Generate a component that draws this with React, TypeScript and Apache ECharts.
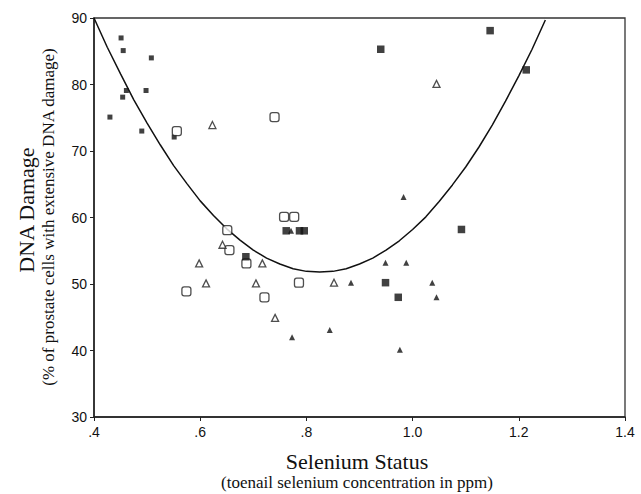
import React, { useEffect, useRef } from "react";
import * as echarts from "echarts";

// Selenium status (ppm) vs DNA damage (%)
const smallFilledSquares: [number, number][] = [
  [0.451, 87.0], [0.455, 85.1], [0.508, 84.0], [0.461, 79.1], [0.498, 79.1],
  [0.454, 78.1], [0.430, 75.1], [0.490, 73.0], [0.551, 72.1],
];
const openSquares: [number, number][] = [
  [0.556, 73.0], [0.740, 75.1], [0.651, 58.1], [0.655, 55.1], [0.687, 53.1],
  [0.574, 48.9], [0.721, 48.0], [0.758, 60.1], [0.777, 60.1], [0.786, 50.2],
];
const largeFilledSquares: [number, number][] = [
  [0.686, 54.1], [0.762, 58.0], [0.787, 58.0], [0.796, 58.0], [1.092, 58.2],
  [0.949, 50.2], [0.973, 48.0], [1.146, 88.1], [1.214, 82.2], [0.940, 85.3],
];
const openTriangles: [number, number][] = [
  [0.623, 73.9], [0.642, 55.9], [0.598, 53.1], [0.611, 50.1], [0.717, 53.1],
  [0.705, 50.1], [0.741, 44.9], [0.852, 50.2], [1.045, 80.1],
];
const filledTriangles: [number, number][] = [
  [0.771, 58.0], [0.884, 50.2], [0.949, 53.2], [0.988, 53.2], [1.037, 50.2],
  [1.045, 48.0], [0.773, 42.0], [0.844, 43.1], [0.976, 40.1], [0.983, 63.1],
];
// fitted curve, points
const curveX = [
  0.4, 0.425, 0.45, 0.475, 0.5, 0.525, 0.55, 0.575, 0.6, 0.625, 0.65, 0.675, 0.7, 0.725,
  0.75, 0.775, 0.8, 0.825, 0.85, 0.875, 0.9, 0.925, 0.95, 0.975, 1.0, 1.025, 1.05, 1.075,
  1.1, 1.125, 1.15, 1.175, 1.2, 1.225, 1.25,
];
const curveY = [
  90.0, 85.6, 81.6, 77.7, 74.2, 70.9, 67.8, 65.1, 62.5, 60.3, 58.3, 56.6, 55.1, 53.9,
  53.0, 52.3, 51.9, 51.8, 51.9, 52.3, 53.0, 53.9, 55.1, 56.5, 58.2, 60.1, 62.4, 64.9,
  67.6, 70.6, 73.9, 77.5, 81.3, 85.3, 89.7,
];

const xTicks = { min: 0.4, max: 1.4, interval: 0.2 };
const yTicks = { min: 30, max: 90, interval: 10 };

export default function App() {
  const ref = useRef<HTMLDivElement>(null);
  useEffect(() => {
    if (!ref.current) return;
    const chart = echarts.init(ref.current, null, { renderer: "svg" });
    const sans = "Liberation Sans";
    const serif = "Liberation Serif";
    const scatterBase = { type: "scatter", z: 3 } as any;
    chart.setOption({
      animation: false,
      backgroundColor: "#fff",
      grid: {
        left: 94, right: 16, top: 18, bottom: 77,
        show: true, borderColor: "#333", borderWidth: 1.3, backgroundColor: "transparent",
      },
      xAxis: {
        type: "value",
        min: xTicks.min, max: xTicks.max, interval: xTicks.interval,
        axisLine: { show: true, onZero: false, lineStyle: { color: "#222", width: 1.5 } },
        axisTick: { show: true, length: 4, lineStyle: { color: "#222" } },
        splitLine: { show: false },
        axisLabel: {
          color: "#111", fontFamily: sans, fontSize: 14, margin: 8,
          formatter: (v: number) => { const s = v.toFixed(1); return s.startsWith("0") ? s.slice(1) : s; },
        },
      },
      yAxis: {
        type: "value",
        min: yTicks.min, max: yTicks.max, interval: yTicks.interval,
        axisLine: { show: true, onZero: false, lineStyle: { color: "#222", width: 1.5 } },
        axisTick: { show: true, length: 4, lineStyle: { color: "#222" } },
        splitLine: { show: false },
        axisLabel: { color: "#111", fontFamily: sans, fontSize: 14, margin: 7 },
      },
      graphic: [
        { type: "text", x: 357, y: 461, style: { text: "Selenium Status", font: `22px "${serif}"`, fill: "#111", textAlign: "center", textVerticalAlign: "middle" } },
        { type: "text", x: 357, y: 482, style: { text: "(toenail selenium concentration in ppm)", font: `17px "${serif}"`, fill: "#111", textAlign: "center", textVerticalAlign: "middle" } },
        { type: "text", x: 26, y: 210, rotation: Math.PI / 2, style: { text: "DNA Damage", font: `22px "${serif}"`, fill: "#111", textAlign: "center", textVerticalAlign: "middle" } },
        { type: "text", x: 48, y: 217, rotation: Math.PI / 2, style: { text: "(% of prostate cells with extensive DNA damage)", font: `17px "${serif}"`, fill: "#111", textAlign: "center", textVerticalAlign: "middle" } },
      ],
      series: [
        {
          type: "line",
          data: curveX.map((x, i) => [x, curveY[i]]),
          smooth: false, showSymbol: false, symbol: "none",
          lineStyle: { color: "#111", width: 1.5 }, z: 2,
        },
        { ...scatterBase, data: smallFilledSquares, symbol: "rect", symbolSize: 5, itemStyle: { color: "#111" } },
        { ...scatterBase, data: openSquares, symbol: "roundRect", symbolSize: 9, itemStyle: { color: "#fff", borderColor: "#222", borderWidth: 1.3 } },
        { ...scatterBase, data: largeFilledSquares, symbol: "rect", symbolSize: 7.5, itemStyle: { color: "#111" } },
        { ...scatterBase, data: openTriangles, symbol: "triangle", symbolSize: 7, itemStyle: { color: "#fff", borderColor: "#222", borderWidth: 1.3 } },
        { ...scatterBase, data: filledTriangles, symbol: "triangle", symbolSize: 6, itemStyle: { color: "#111" } },
      ],
    });
    return () => chart.dispose();
  }, []);
  return <div ref={ref} style={{ width: 641, height: 494, position: "absolute", left: 0, top: 0 }} />;
}
